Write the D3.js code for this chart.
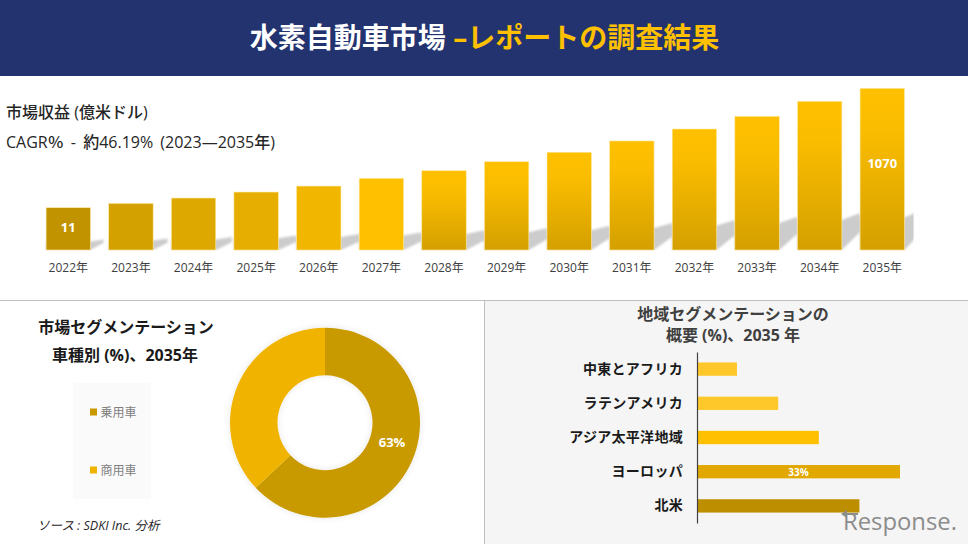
<!DOCTYPE html>
<html>
<head>
<meta charset="utf-8">
<script src="https://cdn.jsdelivr.net/npm/d3@7/dist/d3.min.js"></script>
<style>
  html, body { margin: 0; padding: 0; background: #fff; }
  svg { display: block; }
  text { font-family: "Open Sans", "Noto Sans CJK JP", sans-serif; }
</style>
</head>
<body>
<svg id="chart" width="968" height="544"></svg>
<script>
// revenue bars, values (only first and last are labelled)
var years = ["2022年","2023年","2024年","2025年","2026年","2027年","2028年","2029年","2030年","2031年","2032年","2033年","2034年","2035年"];
var revenue = [11, 50, 97, 150, 203, 272, 339, 419, 503, 603, 709, 822, 955, 1070];
var revenueLabels = {"2022年": "11", "2035年": "1070"};

// vehicle type donut
var vehicleTypes = ["乗用車", "商用車"];
var vehicleShare = [63, 37];

// regions, top to bottom
var regions = ["中東とアフリカ", "ラテンアメリカ", "アジア太平洋地域", "ヨーロッパ", "北米"];
var regionShare = [6.5, 13.2, 19.8, 33, 26.4];

var svg = d3.select("#chart");
var defs = svg.append("defs");

// ---- panels ----
svg.append("rect").attr("x", 484).attr("y", 300).attr("width", 484).attr("height", 244).attr("fill", "#f5f5f5");
svg.append("line").attr("x1", 0).attr("x2", 968).attr("y1", 300.5).attr("y2", 300.5).attr("stroke", "#bfbfbf");
svg.append("line").attr("x1", 484.5).attr("x2", 484.5).attr("y1", 300).attr("y2", 544).attr("stroke", "#bfbfbf");

// ---- header ----
svg.append("rect").attr("width", 968).attr("height", 76).attr("fill", "#22336f");
var title = svg.append("text").attr("x", 484.5).attr("y", 48).attr("text-anchor", "middle")
    .attr("font-size", 28).attr("font-weight", 700);
title.append("tspan").attr("fill", "#fff").text("水素自動車市場 ");
title.append("tspan").attr("fill", "#ffc000").text("–レポートの調査結果");

// ---- revenue text ----
svg.append("text").attr("x", 6).attr("y", 118).attr("font-size", 16).attr("font-weight", 500)
    .attr("fill", "#262626").text("市場収益 (億米ドル)");
svg.append("text").attr("x", 6).attr("y", 148).attr("font-size", 16).attr("font-weight", 500)
    .attr("word-spacing", 3).attr("fill", "#262626").text("CAGR％ - 約46.19% (2023—2035年)");

// ---- revenue bars ----
var barBase = 250;
var x = d3.scaleBand().domain(years).range([37, 913.6]).paddingInner(0.29).paddingOuter(0.145);
// bars do not start at zero in the original, 11 is already 42px high
var y = d3.scaleLinear().domain([-364, 1070]).range([barBase, 88.3]);

var flatFills = ["#c29300", "#d4a200", "#dda800", "#e5ae00", "#f1b700", "#ffc000"];

var grad = defs.append("linearGradient").attr("id", "barGrad").attr("x1", 0).attr("x2", 0).attr("y1", 0).attr("y2", 1);
grad.append("stop").attr("offset", "0%").attr("stop-color", "#ffc000");
grad.append("stop").attr("offset", "25%").attr("stop-color", "#fbbd00");
grad.append("stop").attr("offset", "100%").attr("stop-color", "#d4a000");

defs.append("filter").attr("id", "soft").append("feGaussianBlur").attr("stdDeviation", 1.2);
defs.append("clipPath").attr("id", "shadowClip").append("rect")
    .attr("x", 0).attr("y", 80).attr("width", 913.6).attr("height", 170.5);

// slanted shadows on the floor behind the bars, short bars only get a small wedge
var gap = x.step() - x.bandwidth();
svg.append("g").attr("clip-path", "url(#shadowClip)").append("g").attr("filter", "url(#soft)")
  .selectAll("path").data(revenue).join("path")
    .attr("fill", "#cccccc")
    .attr("d", function(d, i) {
        var x0 = x(years[i]), x1 = x0 + x.bandwidth();
        var sh = (barBase - y(d)) * 0.22;
        var reach = Math.min(gap, sh * 1.4);
        var low = sh * 0.55 + Math.max(0, 16 - sh) * 0.3;
        return "M" + x0 + "," + barBase + "L" + x1 + "," + barBase +
            "L" + (x1 + reach) + "," + (barBase - low) +
            "L" + (x1 + reach) + "," + (barBase - sh * 1.13) +
            "L" + x1 + "," + (barBase - sh * 0.92) +
            "L" + x0 + "," + (barBase - sh * 0.92) + "Z";
    });

svg.append("g").selectAll("rect").data(revenue).join("rect")
    .attr("x", function(d, i) { return x(years[i]); })
    .attr("y", function(d) { return y(d); })
    .attr("width", x.bandwidth())
    .attr("height", function(d) { return barBase - y(d); })
    .attr("fill", function(d, i) { return flatFills[i] || "url(#barGrad)"; })
    .attr("stroke", "#ffe9a8").attr("stroke-width", 0.6);

svg.append("g").selectAll("text").data(years.filter(function(k) { return revenueLabels[k]; })).join("text")
    .attr("x", function(k) { return x(k) + x.bandwidth() / 2; })
    .attr("y", function(k) { return k == "2022年" ? 232 : 168; })
    .attr("text-anchor", "middle").attr("font-size", 13).attr("font-weight", 700)
    .attr("fill", "#fff").text(function(k) { return revenueLabels[k]; });

var xAxis = svg.append("g").attr("transform", "translate(0," + barBase + ")")
    .call(d3.axisBottom(x).tickSize(0).tickPadding(13));
xAxis.select(".domain").remove();
xAxis.selectAll("text").attr("font-size", 12).attr("fill", "#404040")
    .style("font-family", '"Open Sans", "Noto Sans CJK JP", sans-serif');

// ---- donut panel ----
svg.append("text").attr("x", 126).attr("y", 333).attr("text-anchor", "middle").attr("font-size", 16)
    .attr("font-weight", 700).attr("fill", "#1a1a1a").text("市場セグメンテーション");
svg.append("text").attr("x", 125).attr("y", 361).attr("text-anchor", "middle").attr("font-size", 16)
    .attr("font-weight", 700).attr("fill", "#1a1a1a").text("車種別 (%)、2035年");

svg.append("rect").attr("x", 73).attr("y", 383).attr("width", 78).attr("height", 116).attr("fill", "#fafafa");

var donutColors = d3.scaleOrdinal().domain(vehicleTypes).range(["#c99a00", "#f0b400"]);

var legend = svg.append("g").selectAll("g").data(vehicleTypes).join("g")
    .attr("transform", function(d, i) { return "translate(90," + (412 + i * 58) + ")"; });
legend.append("rect").attr("y", -3.5).attr("width", 7).attr("height", 7)
    .attr("fill", function(d) { return donutColors(d); });
legend.append("text").attr("x", 10.5).attr("y", 4.5).attr("font-size", 12).attr("fill", "#7f7f7f")
    .text(function(d) { return d; });

var blur = defs.append("filter").attr("id", "donutShadow")
    .attr("x", "-10%").attr("y", "-10%").attr("width", "120%").attr("height", "120%");
blur.append("feDropShadow").attr("dx", 0).attr("dy", 0).attr("stdDeviation", 3)
    .attr("flood-color", "#000").attr("flood-opacity", 0.1);

var pie = d3.pie().sort(null);
var arc = d3.arc().innerRadius(47.5).outerRadius(95);
var donut = svg.append("g").attr("transform", "translate(325,422.7)");
donut.append("g").attr("filter", "url(#donutShadow)")
  .selectAll("path").data(pie(vehicleShare)).join("path")
    .attr("d", arc)
    .attr("fill", function(d, i) { return donutColors(vehicleTypes[i]); });
donut.append("text").attr("x", 67).attr("y", 24.5).attr("text-anchor", "middle")
    .attr("font-size", 13).attr("font-weight", 700).attr("fill", "#fff").text(vehicleShare[0] + "%");

svg.append("text").attr("x", 37).attr("y", 530).attr("font-size", 12.5).attr("font-style", "italic")
    .attr("fill", "#262626").text("ソース : SDKI Inc. 分析");

// ---- region panel ----
svg.append("text").attr("x", 733).attr("y", 320).attr("text-anchor", "middle").attr("font-size", 16)
    .attr("font-weight", 700).attr("fill", "#404040").text("地域セグメンテーションの");
svg.append("text").attr("x", 733).attr("y", 341).attr("text-anchor", "middle").attr("font-size", 16)
    .attr("font-weight", 700).attr("fill", "#404040").text("概要 (%)、2035 年");

var ry = d3.scaleBand().domain(regions).range([352, 523]).paddingInner(0.61).paddingOuter(0.305);
var rx = d3.scaleLinear().domain([0, 33]).range([697, 900]);
var regionFills = ["#ffc82a", "#ffc82a", "#ffc000", "#e0a800", "#bd8f00"];

svg.append("g").selectAll("rect").data(regionShare).join("rect")
    .attr("x", rx(0))
    .attr("y", function(d, i) { return ry(regions[i]); })
    .attr("width", function(d) { return rx(d) - rx(0); })
    .attr("height", ry.bandwidth())
    .attr("fill", function(d, i) { return regionFills[i]; });

var yAxis = svg.append("g").attr("transform", "translate(697,0)")
    .call(d3.axisLeft(ry).tickSize(0).tickPadding(14));
yAxis.select(".domain").attr("stroke", "#404040").attr("stroke-width", 1.2);
yAxis.selectAll("text").attr("font-size", 14).attr("font-weight", 700).attr("fill", "#1a1a1a")
    .attr("letter-spacing", 0.3)
    .style("font-family", '"Open Sans", "Noto Sans CJK JP", sans-serif');

svg.append("text").attr("x", rx(33 / 2)).attr("y", ry("ヨーロッパ") + 10.5).attr("text-anchor", "middle")
    .attr("font-size", 10).attr("font-weight", 700).attr("fill", "#fff").text(regionShare[3] + "%");

// ---- watermark ----
svg.append("text").attr("x", 843).attr("y", 530).attr("font-size", 23)
    .attr("fill", "#8c8c8c").attr("textLength", 114).attr("lengthAdjust", "spacingAndGlyphs")
    .text("Response.");
svg.append("path").attr("d", "M841,514L847,510L847,513L858,513L858,515L847,515L847,518Z").attr("fill", "#8c8c8c");
</script>
</body>
</html>
